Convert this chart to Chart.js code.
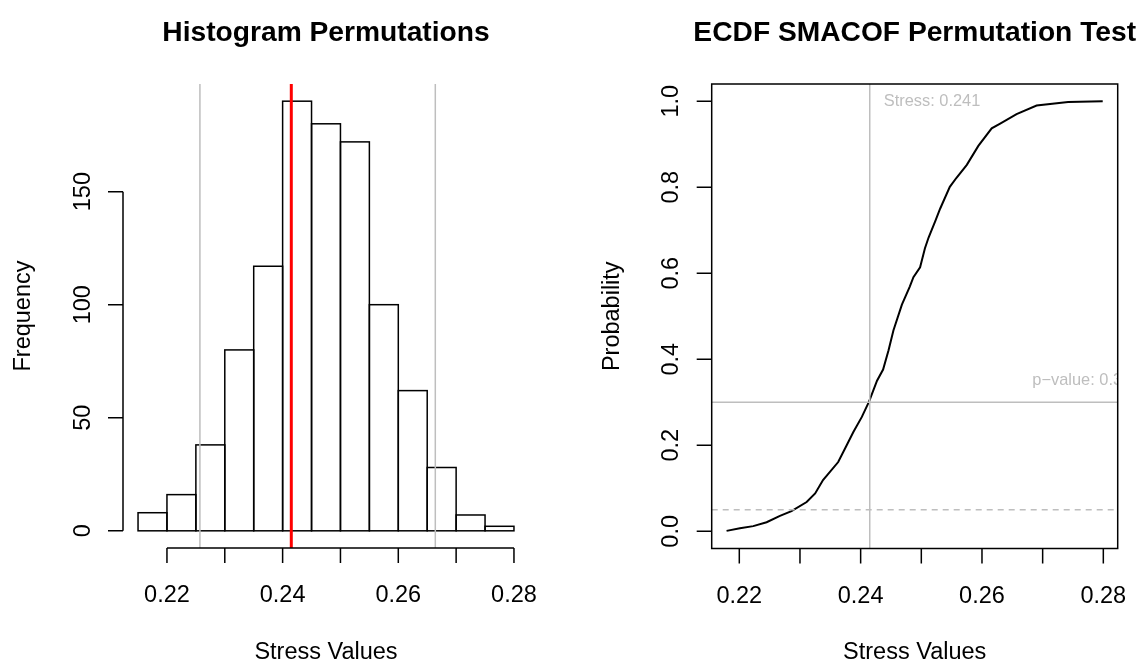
<!DOCTYPE html>
<html>
<head>
<meta charset="utf-8">
<title>SMACOF Permutation Test</title>
<script src="https://cdn.jsdelivr.net/npm/chart.js@4.4.1/dist/chart.umd.min.js"></script>
<style>
	body { margin: 0; background: #fff; }
	#wrap { position: relative; width: 1142px; height: 663px; }
	canvas { position: absolute; top: 0; }
	#hist { left: 0; }
	#ecdf { left: 571px; }
</style>
</head>
<body>
<div id="wrap">
	<canvas id="hist" width="571" height="663"></canvas>
	<canvas id="ecdf" width="571" height="663"></canvas>
</div>
<script>
// histogram of permuted stress values
const binEdges = [0.215, 0.22, 0.225, 0.23, 0.235, 0.24, 0.245, 0.25, 0.255, 0.26, 0.265, 0.27, 0.275, 0.28];
const binCounts = [8, 16, 38, 80, 117, 190, 180, 172, 100, 62, 28, 7, 2];
const observedStress = 0.2415;
const quantileLines = [0.2257, 0.2664];
const pValue = 0.3;
const alphaLevel = 0.05;

// ecdf
const ecdfStress = [0.2179, 0.2201, 0.2223, 0.2245, 0.2267, 0.2286, 0.2311, 0.2325, 0.2338, 0.2363, 0.2377, 0.2388, 0.2402, 0.2414, 0.2427, 0.2437, 0.2446, 0.2454, 0.2468, 0.2481, 0.2487, 0.2498, 0.2506, 0.2512, 0.2523, 0.2531, 0.2547, 0.2558, 0.2575, 0.2594, 0.2616, 0.2630, 0.2657, 0.2690, 0.2742, 0.2799];
const ecdfProb = [0.001, 0.007, 0.012, 0.021, 0.036, 0.047, 0.068, 0.088, 0.119, 0.161, 0.200, 0.231, 0.266, 0.302, 0.350, 0.376, 0.421, 0.467, 0.527, 0.569, 0.591, 0.614, 0.658, 0.683, 0.721, 0.750, 0.801, 0.822, 0.852, 0.896, 0.937, 0.948, 0.970, 0.990, 0.998, 1.000];

// axes
const xTicks = [0.22, 0.23, 0.24, 0.25, 0.26, 0.27, 0.28];
const xTickLabels = ['0.22', '', '0.24', '', '0.26', '', '0.28'];
const freqTicks = [0, 50, 100, 150];
const freqTickLabels = ['0', '50', '100', '150'];
const probTicks = [0, 0.2, 0.4, 0.6, 0.8, 1];
const probTickLabels = ['0.0', '0.2', '0.4', '0.6', '0.8', '1.0'];

const FONT = '"Liberation Sans", Arial, Helvetica, sans-serif';
const GREY = '#bebebe';

function drawXAxis(chart, line) {
	const ctx = chart.ctx, a = chart.chartArea, x = chart.scales.x;
	ctx.save();
	ctx.strokeStyle = '#000';
	ctx.lineWidth = 1.5;
	ctx.beginPath();
	if (line) {
		ctx.moveTo(x.getPixelForValue(xTicks[0]), a.bottom);
		ctx.lineTo(x.getPixelForValue(xTicks[xTicks.length - 1]), a.bottom);
	}
	xTicks.forEach(function (t) {
		const px = x.getPixelForValue(t);
		ctx.moveTo(px, a.bottom);
		ctx.lineTo(px, a.bottom + 15);
	});
	ctx.stroke();
	ctx.fillStyle = '#000';
	ctx.font = '23.5px ' + FONT;
	ctx.textAlign = 'center';
	ctx.textBaseline = 'alphabetic';
	xTicks.forEach(function (t, i) {
		ctx.fillText(xTickLabels[i], x.getPixelForValue(t), a.bottom + 54);
	});
	ctx.fillText('Stress Values', (a.left + a.right) / 2, a.bottom + 110.5);
	ctx.restore();
}

function drawYAxis(chart, ticks, labels, title, line) {
	const ctx = chart.ctx, a = chart.chartArea, y = chart.scales.y;
	ctx.save();
	ctx.strokeStyle = '#000';
	ctx.lineWidth = 1.5;
	ctx.beginPath();
	if (line) {
		ctx.moveTo(a.left, y.getPixelForValue(ticks[0]));
		ctx.lineTo(a.left, y.getPixelForValue(ticks[ticks.length - 1]));
	}
	ticks.forEach(function (t) {
		const py = y.getPixelForValue(t);
		ctx.moveTo(a.left - 15, py);
		ctx.lineTo(a.left, py);
	});
	ctx.stroke();
	ctx.fillStyle = '#000';
	ctx.font = '23.5px ' + FONT;
	ctx.textAlign = 'center';
	ctx.textBaseline = 'alphabetic';
	ticks.forEach(function (t, i) {
		ctx.save();
		ctx.translate(a.left - 33.5, y.getPixelForValue(t));
		ctx.rotate(-Math.PI / 2);
		ctx.fillText(labels[i], 0, 0);
		ctx.restore();
	});
	ctx.save();
	ctx.translate(a.left - 93, (a.top + a.bottom) / 2);
	ctx.rotate(-Math.PI / 2);
	ctx.fillText(title, 0, 0);
	ctx.restore();
	ctx.restore();
}

function drawTitle(chart, text) {
	const ctx = chart.ctx, a = chart.chartArea;
	ctx.save();
	ctx.fillStyle = '#000';
	ctx.font = 'bold 28.2px ' + FONT;
	ctx.textAlign = 'center';
	ctx.fillText(text, (a.left + a.right) / 2, 41);
	ctx.restore();
}

function clipArea(ctx, a) {
	ctx.beginPath();
	ctx.rect(a.left, a.top, a.right - a.left, a.bottom - a.top);
	ctx.clip();
}

const histDecor = {
	id: 'histDecor',
	afterDatasetsDraw(chart) {
		const ctx = chart.ctx, a = chart.chartArea, x = chart.scales.x;
		ctx.save();
		ctx.strokeStyle = '#000';
		ctx.lineWidth = 1.5;
		chart.getDatasetMeta(0).data.forEach(function (bar) {
			ctx.strokeRect(bar.x - bar.width / 2, bar.y, bar.width, bar.base - bar.y);
		});
		clipArea(ctx, a);
		ctx.strokeStyle = GREY;
		ctx.beginPath();
		quantileLines.forEach(function (q) {
			const px = x.getPixelForValue(q);
			ctx.moveTo(px, a.top);
			ctx.lineTo(px, a.bottom);
		});
		ctx.stroke();
		ctx.strokeStyle = '#ff0000';
		ctx.lineWidth = 3;
		ctx.beginPath();
		ctx.moveTo(x.getPixelForValue(observedStress), a.top);
		ctx.lineTo(x.getPixelForValue(observedStress), a.bottom);
		ctx.stroke();
		ctx.restore();
		drawXAxis(chart, true);
		drawYAxis(chart, freqTicks, freqTickLabels, 'Frequency', true);
		drawTitle(chart, 'Histogram Permutations');
	}
};

const ecdfDecor = {
	id: 'ecdfDecor',
	afterDatasetsDraw(chart) {
		const ctx = chart.ctx, a = chart.chartArea, x = chart.scales.x, y = chart.scales.y;
		ctx.save();
		clipArea(ctx, a);
		ctx.strokeStyle = GREY;
		ctx.lineWidth = 1.5;
		const sx = x.getPixelForValue(observedStress);
		const py = y.getPixelForValue(pValue);
		ctx.beginPath();
		ctx.moveTo(sx, a.top);
		ctx.lineTo(sx, a.bottom);
		ctx.moveTo(a.left, py);
		ctx.lineTo(a.right, py);
		ctx.stroke();
		ctx.setLineDash([6, 5]);
		ctx.beginPath();
		ctx.moveTo(a.left, y.getPixelForValue(alphaLevel));
		ctx.lineTo(a.right, y.getPixelForValue(alphaLevel));
		ctx.stroke();
		ctx.setLineDash([]);
		ctx.fillStyle = GREY;
		ctx.font = '16.4px ' + FONT;
		ctx.textBaseline = 'middle';
		ctx.textAlign = 'left';
		ctx.fillText('Stress: ' + observedStress.toFixed(3), sx + 14, y.getPixelForValue(1));
		ctx.fillText('p\u2212value: ' + pValue, x.getPixelForValue(0.2683), y.getPixelForValue(0.35));
		ctx.restore();
		ctx.save();
		ctx.strokeStyle = '#000';
		ctx.lineWidth = 1.5;
		ctx.strokeRect(a.left, a.top, a.right - a.left, a.bottom - a.top);
		ctx.restore();
		drawXAxis(chart, false);
		drawYAxis(chart, probTicks, probTickLabels, 'Probability', false);
		drawTitle(chart, 'ECDF SMACOF Permutation Test');
	}
};

new Chart(document.getElementById('hist'), {
	type: 'bar',
	data: {
		datasets: [{
			data: binCounts.map(function (c, i) {
				return { x: (binEdges[i] + binEdges[i + 1]) / 2, y: c };
			}),
			backgroundColor: '#ffffff',
			borderWidth: 0,
			barPercentage: 1,
			categoryPercentage: 1
		}]
	},
	options: {
		responsive: false,
		animation: false,
		layout: { padding: { left: 123, right: 42, top: 84, bottom: 115 } },
		plugins: { legend: { display: false }, tooltip: { enabled: false } },
		scales: {
			x: { type: 'linear', min: 0.2124, max: 0.2826, offset: false, display: false },
			y: { min: -7.6, max: 197.6, display: false }
		}
	},
	plugins: [histDecor]
});

new Chart(document.getElementById('ecdf'), {
	type: 'scatter',
	data: {
		datasets: [{
			data: ecdfStress.map(function (s, i) { return { x: s, y: ecdfProb[i] }; }),
			showLine: true,
			borderColor: '#000000',
			borderWidth: 2,
			pointRadius: 0,
			tension: 0
		}]
	},
	options: {
		responsive: false,
		animation: false,
		layout: { padding: { left: 140.7, right: 24.3, top: 84, bottom: 114.5 } },
		plugins: { legend: { display: false }, tooltip: { enabled: false } },
		scales: {
			x: { type: 'linear', min: 0.21545, max: 0.28237, display: false },
			y: { min: -0.04, max: 1.04, display: false }
		}
	},
	plugins: [ecdfDecor]
});
</script>
</body>
</html>
